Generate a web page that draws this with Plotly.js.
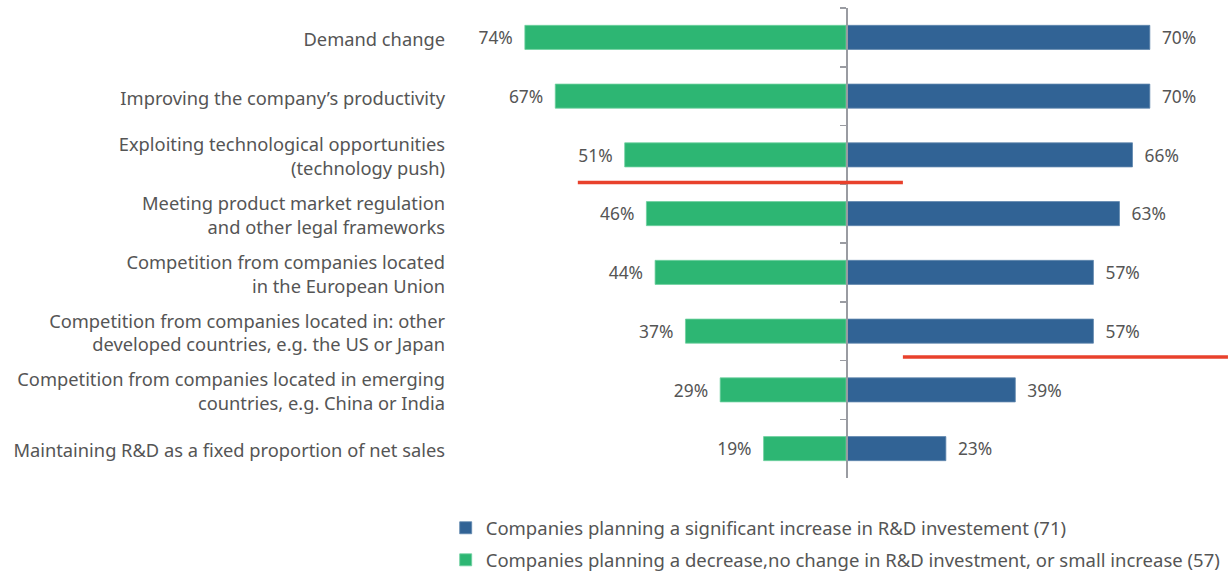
<!DOCTYPE html>
<html>
<head>
<meta charset="utf-8">
<script src="https://cdn.plot.ly/plotly-3.0.1.min.js"></script>
<style>html,body{margin:0;padding:0;background:#fff;}#chart{width:1231px;height:574px;}</style>
</head>
<body>
<div id="chart"></div>
<script>
var categories = [
  "Demand change",
  "Improving the company’s productivity",
  "Exploiting technological opportunities<br>(technology push)",
  "Meeting product market regulation<br>and other legal frameworks",
  "Competition from companies located<br>in the European Union",
  "Competition from companies located in: other<br>developed countries, e.g. the US or Japan",
  "Competition from companies located in emerging<br>countries, e.g. China or India",
  "Maintaining R&D as a fixed proportion of net sales"
];
var increaseValues = [70, 70, 66, 63, 57, 57, 39, 23];
var decreaseValues = [74, 67, 51, 46, 44, 37, 29, 19];
var increaseName = "Companies planning a significant increase in R&D investement (71)";
var decreaseName = "Companies planning a decrease,no change in R&D investment, or small increase (57)";

var blue = "#316395";
var green = "#2db673";
var textColor = "#555555";
var axisGray = "#9a9ca2";
var FONT = "Noto Sans, Open Sans, sans-serif";
var NB = "\u00a0";

var xRange = [-90.1, 88.7];
var zeroPos = -xRange[0] / (xRange[1] - xRange[0]);

var traces = [
  {
    type: "bar", orientation: "h", name: increaseName, legendgroup: "inc",
    y: categories, x: increaseValues,
    marker: {color: blue, line: {color: "#5f86ad", width: 0.8}},
    text: increaseValues.map(function(v){ return NB + NB + v + "%"; }),
    textposition: "outside", cliponaxis: false,
    textfont: {family: FONT, size: 19.5, color: textColor},
    hoverinfo: "skip"
  },
  {
    type: "bar", orientation: "h", name: decreaseName, legendgroup: "dec",
    y: categories, x: decreaseValues.map(function(v){ return -v; }),
    marker: {color: green, line: {color: "#6fd09f", width: 0.8}},
    text: decreaseValues.map(function(v){ return v + "%" + NB + NB; }),
    textposition: "outside", cliponaxis: false,
    textfont: {family: FONT, size: 19.5, color: textColor},
    hoverinfo: "skip"
  },
  {
    type: "scatter", mode: "markers", yaxis: "y2",
    y: categories, x: categories.map(function(){ return 0; }),
    marker: {opacity: 0}, showlegend: false, hoverinfo: "skip"
  }
];

var layout = {
  width: 1231, height: 574,
  margin: {l: 455, r: 0, t: 8, b: 96, autoexpand: false},
  paper_bgcolor: "#ffffff", plot_bgcolor: "#ffffff",
  font: {family: FONT, size: 18, color: textColor},
  barmode: "overlay",
  bargap: 0.59,
  showlegend: true,
  xaxis: {range: xRange, showgrid: false, zeroline: false, showticklabels: false, ticks: "", showline: false, fixedrange: true},
  yaxis: {
    type: "category", categoryorder: "array", categoryarray: categories,
    range: [7.5, -0.5], showgrid: false, zeroline: false, showline: false, ticks: "",
    ticklabelstandoff: 9, ticklabelshift: -2,
    tickfont: {family: FONT, size: 18.3, color: textColor}, fixedrange: true
  },
  yaxis2: {
    type: "category", categoryorder: "array", categoryarray: categories,
    range: [7.5, -0.5], overlaying: "y", anchor: "free", position: zeroPos, side: "left",
    showgrid: false, zeroline: false, showline: true, linecolor: axisGray, linewidth: 1.5,
    ticks: "outside", tickson: "boundaries", ticklen: 6, tickwidth: 1.5, tickcolor: axisGray,
    showticklabels: false, fixedrange: true
  },
  legend: {
    orientation: "v", x: -0.012, xanchor: "left", y: -0.0665, yanchor: "top",
    traceorder: "grouped", tracegroupgap: 5,
    font: {family: FONT, size: 18.5, color: textColor},
    bgcolor: "rgba(0,0,0,0)"
  },
  shapes: [
    {type: "line", xref: "x", yref: "y", x0: -61.8, x1: 13.1, y0: 2.47, y1: 2.47, line: {color: "#e8412c", width: 3.5}},
    {type: "line", xref: "x", yref: "y", x0: 13.1, x1: 88.0, y0: 5.44, y1: 5.44, line: {color: "#e8412c", width: 3.5}}
  ]
};

Plotly.newPlot("chart", traces, layout, {displayModeBar: false, staticPlot: true});
</script>
</body>
</html>
